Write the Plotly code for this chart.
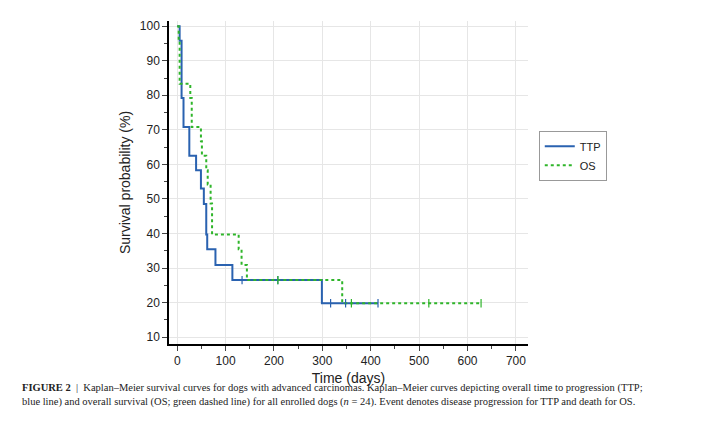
import plotly.graph_objects as go

# TTP (blue) step curve: times (days) and survival (%)
ttp_t = [0, 5, 9, 13, 25, 39, 49, 55, 60, 62, 79, 114, 299, 415]
ttp_s = [100, 95.8, 79.2, 70.8, 62.5, 58.3, 53.0, 48.5, 39.7, 35.4, 30.9, 26.5, 19.8, 19.8]
ttp_cens_t = [134, 208, 317, 348, 415]
ttp_cens_s = [26.5, 26.5, 19.8, 19.8, 19.8]

# OS (green) step curve
os_t = [0, 3, 5, 27, 30, 49, 51, 60, 63, 69, 72, 127, 133, 144, 341, 628]
os_s = [100, 95.8, 83.3, 79.2, 70.8, 66.7, 62.5, 58.3, 54.2, 48.7, 39.7, 35.4, 30.9, 26.5, 19.8, 19.8]
os_cens_t = [208, 360, 520, 628]
os_cens_s = [26.5, 19.8, 19.8, 19.8]

blue = "#2a62b0"
green = "#2fb52a"

fig = go.Figure()
fig.add_trace(go.Scatter(x=ttp_t, y=ttp_s, mode="lines", line=dict(color=blue, width=2, shape="hv"), name="TTP"))
fig.add_trace(go.Scatter(x=os_t, y=os_s, mode="lines", line=dict(color=green, width=2, shape="hv", dash="dot"), name="OS"))
fig.add_trace(go.Scatter(x=ttp_cens_t, y=ttp_cens_s, mode="markers", showlegend=False,
                         marker=dict(symbol="line-ns", size=6, line=dict(color=blue, width=1.2))))
fig.add_trace(go.Scatter(x=os_cens_t, y=os_cens_s, mode="markers", showlegend=False,
                         marker=dict(symbol="line-ns", size=6, line=dict(color=green, width=1.2))))

fig.update_layout(
    width=725, height=426, paper_bgcolor="white", plot_bgcolor="white",
    margin=dict(l=161, r=205, t=11, b=90),
    font=dict(family="Liberation Sans, Arial", size=12, color="#222"),
    legend=dict(x=1.03, y=0.66, xanchor="left", yanchor="top", bordercolor="#999", borderwidth=1,
                font=dict(size=11), tracegroupgap=0),
    xaxis=dict(range=[-17, 725], tickvals=[0, 100, 200, 300, 400, 500, 600, 700], showgrid=True,
               gridcolor="#e6e6e6", showline=True, linecolor="black", linewidth=1.5, ticks="outside",
               ticklen=5, zeroline=False, minor=dict(ticks="outside", ticklen=3, dtick=50, showgrid=False),
               title=dict(text="Time (days)", standoff=6)),
    yaxis=dict(range=[8, 101.5], tickvals=[10, 20, 30, 40, 50, 60, 70, 80, 90, 100], showgrid=True,
               gridcolor="#e6e6e6", showline=True, linecolor="black", linewidth=1.5, ticks="outside",
               ticklen=5, zeroline=False, minor=dict(ticks="outside", ticklen=3, dtick=5, showgrid=False),
               title=dict(text="Survival probability (%)", standoff=6)),
)
fig.add_annotation(xref="paper", yref="paper", x=-0.415, y=-0.11, xanchor="left", yanchor="top", showarrow=False,
                   align="left", font=dict(family="Liberation Serif, Times New Roman", size=10.5, color="#222"),
                   text="<b>FIGURE 2</b>  |  Kaplan–Meier survival curves for dogs with advanced carcinomas. Kaplan–Meier curves depicting overall time to progression (TTP;<br>blue line) and overall survival (OS; green dashed line) for all enrolled dogs (<i>n</i> = 24). Event denotes disease progression for TTP and death for OS.")
fig.write_html("out.html")
